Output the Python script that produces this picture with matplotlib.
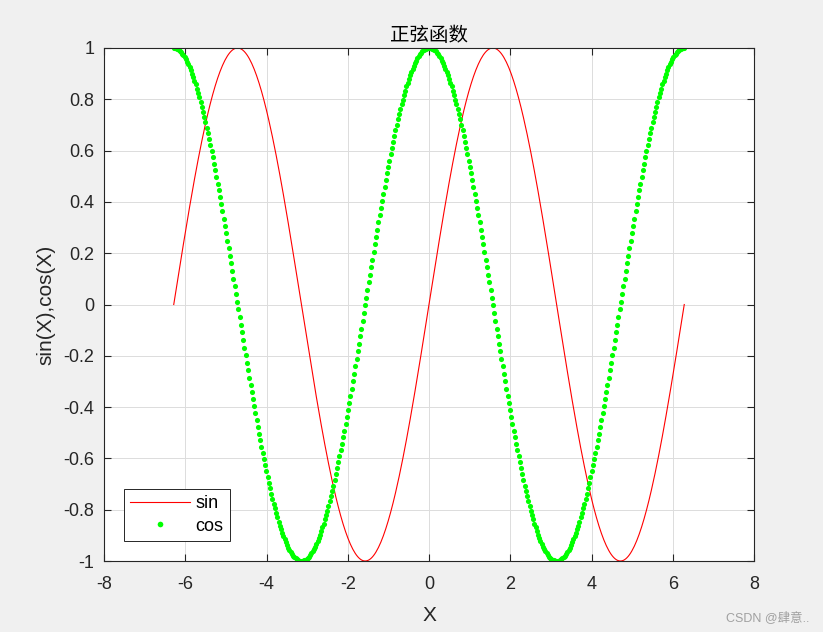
import numpy as np
import matplotlib
matplotlib.use('Agg')
import matplotlib.pyplot as plt

plt.rcParams['font.family'] = ['Liberation Sans', 'Noto Sans CJK SC', 'DejaVu Sans']
plt.rcParams['axes.unicode_minus'] = False

# X = -2*pi .. 2*pi, sampled densely as in the original MATLAB script
x_start = -2 * np.pi
x_end = 2 * np.pi
n_points = 420
X = np.linspace(x_start, x_end, n_points)
sin_vals = np.sin(X)
cos_vals = np.cos(X)

x_ticks = [-8, -6, -4, -2, 0, 2, 4, 6, 8]
y_ticks = [-1, -0.8, -0.6, -0.4, -0.2, 0, 0.2, 0.4, 0.6, 0.8, 1]
y_labels = ['-1', '-0.8', '-0.6', '-0.4', '-0.2', '0', '0.2', '0.4', '0.6', '0.8', '1']

fig = plt.figure(figsize=(8.23, 6.32), dpi=100, facecolor='#f0f0f0')
ax = fig.add_axes([104/823, 71/632, 650/823, 513/632])

ax.plot(X, sin_vals, color='#ff0000', lw=0.8, label='sin')
ax.plot(X, cos_vals, ls='none', marker='o', ms=3.7, mew=0,
        color='#00ff00', label='cos')

ax.set_xlim(-8, 8)
ax.set_ylim(-1, 1)
ax.set_xticks(x_ticks)
ax.set_yticks(y_ticks)
ax.set_yticklabels(y_labels)
ax.tick_params(direction='in', length=5, width=0.8, top=True, right=True,
               labelsize=13, colors='#262626')
ax.tick_params(axis='x', pad=11)
ax.tick_params(axis='y', pad=7)
ax.grid(True, color='#dcdcdc', lw=0.7)
ax.set_axisbelow(True)
for s in ax.spines.values():
    s.set_color('#262626')
    s.set_linewidth(0.8)

ax.set_title('正弦函数', fontsize=14, family=['Noto Sans CJK SC'], pad=5)
ax.set_xlabel('X', fontsize=15, color='#262626', labelpad=9)
ax.set_ylabel('sin(X),cos(X)', fontsize=15, color='#262626', labelpad=6)

leg = ax.legend(loc='lower left', bbox_to_anchor=(20/650, 20/513), borderaxespad=0,
                fontsize=13, fancybox=False, edgecolor='#262626', framealpha=1,
                handlelength=3.3, handletextpad=0.3, markerscale=1.1,
                borderpad=0.35, labelspacing=0.3)
leg.get_frame().set_linewidth(0.7)

fig.text(0.983, 0.012, 'CSDN @肆意..', ha='right', va='bottom', fontsize=9,
         color='#a0a0a0', family=['Liberation Sans', 'Noto Sans CJK SC'])

fig.savefig('out.png', dpi=100, facecolor=fig.get_facecolor())
